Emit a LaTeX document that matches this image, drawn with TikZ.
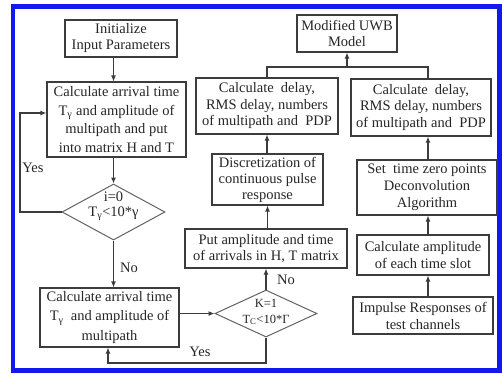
\documentclass[tikz,border=0pt]{standalone}
\usepackage{fontspec}
\setmainfont{Liberation Serif}
\usetikzlibrary{arrows.meta,shapes.geometric}
\definecolor{frameblue}{RGB}{18,24,238}
\definecolor{ink}{RGB}{60,60,60}
\tikzset{
  box/.style={draw=ink, line width=1.1pt, rectangle, inner sep=0pt, align=center,
    text=black!85, font=\fontsize{14.5}{17}\selectfont},
  dia/.style={draw=ink!80, line width=1pt, diamond, inner sep=0pt},
  diatext/.style={inner sep=0pt, align=center, text=black!85},
  lbl/.style={inner sep=0pt, text=black!85, font=\fontsize{14.5}{17}\selectfont},
  arr/.style={draw=ink, line width=1.1pt, -{Latex[length=6pt,width=5pt]}},
  wire/.style={draw=ink, line width=1.1pt}
}
\begin{document}
\begin{tikzpicture}[x=1pt,y=-1pt]
\useasboundingbox (0,0) rectangle (502,373);
% blue frame
\fill[white] (0,0) rectangle (502,373);
\fill[frameblue] (11,4) rectangle (502,373);
\fill[white] (15,9) rectangle (497,368);

% left column
\node[box, minimum width=112pt, minimum height=37pt, font=\fontsize{14.5}{16}\selectfont]
  (init) at (121,38.5) {Initialize\\Input Parameters};
\node[box, minimum width=139pt, minimum height=75pt, font=\fontsize{14.5}{18.5}\selectfont]
  (calc1) at (116.5,119.5) {Calculate arrival time\\T\textsubscript{γ} and amplitude of\\multipath and put\\into matrix H and T};
\node[dia, minimum width=103pt, minimum height=56pt] (d1) at (113.5,212) {};
\node[diatext, font=\fontsize{14.5}{15}\selectfont] (d1t) at (113.5,206) {i=0\\T\textsubscript{γ}<10*γ};
\node[box, minimum width=139pt, minimum height=59pt, font=\fontsize{14.5}{19.5}\selectfont]
  (calc2) at (109.5,317.5) {Calculate arrival time\\T\textsubscript{γ}\ \ and amplitude of\\multipath};

% middle column
\node[dia, minimum width=102pt, minimum height=47pt] (d2) at (266,313.5) {};
\node[diatext, font=\fontsize{12.5}{16}\selectfont] (d2t) at (266,312) {K=1\\T\textsubscript{C}<10*Γ};
\node[box, minimum width=162pt, minimum height=39pt, font=\fontsize{14.5}{16}\selectfont]
  (put) at (266,248.5) {Put amplitude and time\\of arrivals in H, T matrix};
\node[box, minimum width=111pt, minimum height=51pt, font=\fontsize{14.5}{16}\selectfont]
  (disc) at (267.5,179.5) {Discretization of\\continuous pulse\\response};
\node[box, minimum width=142pt, minimum height=56pt, font=\fontsize{14.5}{16.5}\selectfont]
  (cd1) at (267,106) {Calculate\ \ delay,\\RMS delay, numbers\\of multipath and\ \ PDP};

% top
\node[box, minimum width=100pt, minimum height=37pt, font=\fontsize{14.5}{16}\selectfont]
  (mod) at (347,33.5) {Modified UWB\\Model};

% right column
\node[box, minimum width=140pt, minimum height=57pt, font=\fontsize{14.5}{16.5}\selectfont]
  (cd2) at (421,107.5) {Calculate\ \ delay,\\RMS delay, numbers\\of multipath and\ \ PDP};
\node[box, minimum width=140pt, minimum height=55pt, font=\fontsize{14.5}{17}\selectfont]
  (set) at (427,187.5) {Set\ \ time zero points\\Deconvolution\\Algorithm};
\node[box, minimum width=132pt, minimum height=40pt, font=\fontsize{14.5}{17}\selectfont]
  (amp) at (423,255) {Calculate amplitude\\of each time slot};
\node[box, minimum width=140pt, minimum height=37pt, font=\fontsize{14.5}{17}\selectfont]
  (imp) at (423,315.5) {Impulse Responses of\\test channels};

% routing points
\coordinate (loopA) at (20,0);
\coordinate (loopB) at (0,363);
\coordinate (j) at (347,67);
\coordinate (jr) at (428,67);

% left column flow
\draw[arr] (init.south -| d1.north) -- (d1.north |- calc1.north);
\draw[arr] (calc1.south -| d1.north) -- (d1.north);
\draw[arr] (d1.west) -- (d1.west -| loopA) |- ([yshift=6.5pt]calc1.west);
\draw[arr] (d1.south) -- (d1.south |- calc2.north);
\draw[arr] (calc2.east |- d2.west) -- (d2.west);
\draw[arr] (d2.south) |- ([xshift=-1.5pt]calc2.south |- loopB) -- ([xshift=-1.5pt]calc2.south);

% middle column flow
\draw[arr] (d2.north) -- (d2.north |- put.south);
\draw[arr] (put.north -| disc.south) -- (disc.south);
\draw[arr] (disc.north -| cd1.south) -- (cd1.south);

% merge into the model
\draw[wire] (cd1.north) |- (jr) -- (jr |- cd2.north);
\draw[arr] (j) -- (mod.south);

% right column flow
\draw[arr] (imp.north -| jr) -- (amp.south -| jr);
\draw[arr] (amp.north -| jr) -- (set.south -| jr);
\draw[arr] (set.north -| jr) -- (cd2.south -| jr);

% branch labels
\node[lbl] (yes1) at (33,168) {Yes};
\node[lbl] (no1) at (129,268) {No};
\node[lbl] (yes2) at (200,352) {Yes};
\node[lbl] (no2) at (286,280) {No};
\end{tikzpicture}
\end{document}
